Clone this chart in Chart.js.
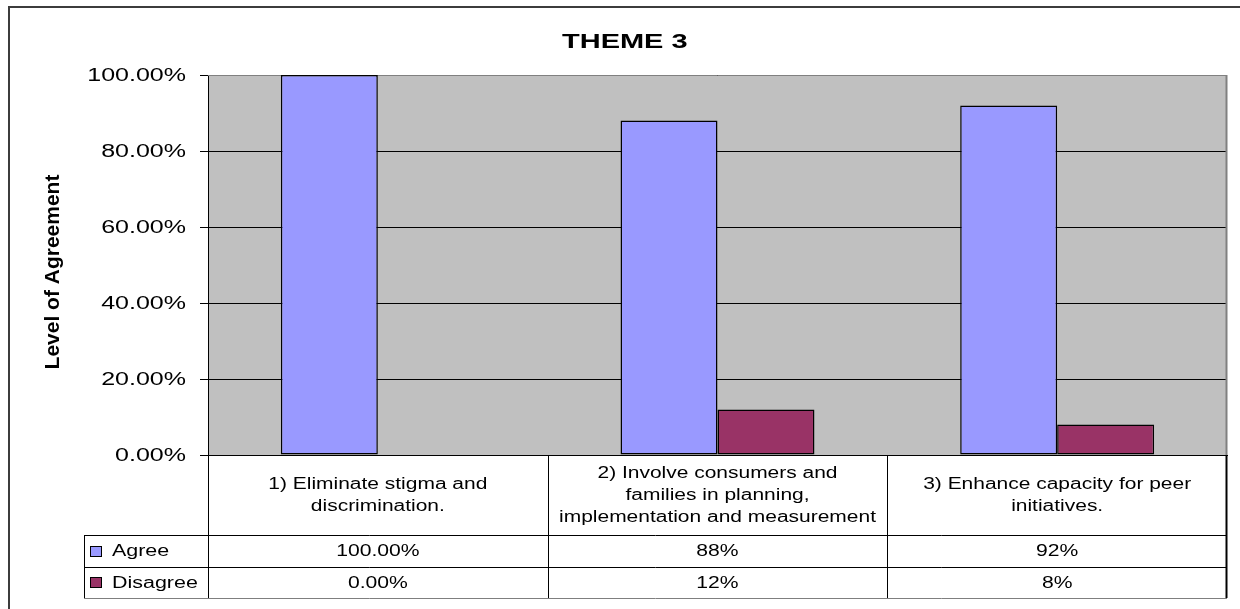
<!DOCTYPE html>
<html>
<head>
<meta charset="utf-8">
<title>THEME 3</title>
<script src="https://cdn.jsdelivr.net/npm/chart.js@4.4.1/dist/chart.umd.min.js"></script>
<style>
  html, body { margin: 0; padding: 0; background: #ffffff; }
  canvas { display: block; }
</style>
</head>
<body>
<canvas id="chart" width="1240" height="609"></canvas>
<script>
// ---- chart data ----
const chartTitle = 'THEME 3';
const yAxisTitle = 'Level of Agreement';
const categories = [
  ['1) Eliminate stigma and', 'discrimination.'],
  ['2) Involve consumers and', 'families in planning,', 'implementation and measurement'],
  ['3) Enhance capacity for peer', 'initiatives.']
];
const seriesNames = ['Agree', 'Disagree'];
const agreeValues = [1.00, 0.88, 0.92];
const disagreeValues = [0.00, 0.12, 0.08];
// decimals shown in the data table for each category column
const tableDecimals = [2, 0, 0];
const yTickValues = [0, 0.2, 0.4, 0.6, 0.8, 1.0];

const FONT = "'Liberation Sans', Arial, Helvetica, sans-serif";
const pct = (v, d) => (v * 100).toFixed(d) + '%';

// Horizontal text is drawn with widened glyphs (horizontal scale factor).
function drawWideLabels(scale, chartArea) {
  const ctx = scale.ctx;
  const sx = scale.options.ticks.stretch || 1;
  const dy = scale.options.ticks.shiftY || 0;
  for (const item of scale.getLabelItems(chartArea)) {
    const [tx, ty] = item.options.translation;
    ctx.save();
    ctx.translate(tx, ty + dy);
    ctx.scale(sx, 1);
    Chart.helpers.renderText(ctx, item.label, 0, item.textOffset, item.font,
      Object.assign({}, item.options, { translation: null }));
    ctx.restore();
  }
}

class WideLinearScale extends Chart.LinearScale {
  drawLabels(area) { drawWideLabels(this, area); }
}
WideLinearScale.id = 'wideLinear';
WideLinearScale.defaults = Chart.LinearScale.defaults;

class WideCategoryScale extends Chart.CategoryScale {
  drawLabels(area) { drawWideLabels(this, area); }
}
WideCategoryScale.id = 'wideCategory';
WideCategoryScale.defaults = Chart.CategoryScale.defaults;

Chart.register(WideLinearScale, WideCategoryScale);

function wideText(ctx, text, x, y, sx, align) {
  ctx.save();
  ctx.translate(x, y);
  ctx.scale(sx, 1);
  ctx.textAlign = align;
  ctx.fillText(text, 0, 0);
  ctx.restore();
}

// ---- frame, titles and the data table under the plot ----
const LEGEND_LEFT = 84;
const ROW_H = 31.5;

function hLine(ctx, x1, x2, y, color, w) {
  ctx.beginPath();
  ctx.strokeStyle = color;
  ctx.lineWidth = w || 1;
  const yy = Math.round(y) + 0.5;
  ctx.moveTo(x1, yy);
  ctx.lineTo(x2, yy);
  ctx.stroke();
}
function vLine(ctx, x, y1, y2, color, w) {
  ctx.beginPath();
  ctx.strokeStyle = color;
  ctx.lineWidth = w || 1;
  const xx = Math.round(x) + 0.5;
  ctx.moveTo(xx, y1);
  ctx.lineTo(xx, y2);
  ctx.stroke();
}

const framePlugin = {
  id: 'frameAndTable',
  beforeDraw(chart) {
    const {ctx, chartArea: a} = chart;
    ctx.save();
    ctx.fillStyle = '#C0C0C0';
    ctx.fillRect(a.left, a.top, a.width, a.height);
    ctx.restore();
  },
  beforeDatasetsDraw(chart) {
    const {ctx, chartArea: a} = chart;
    ctx.save();
    hLine(ctx, a.left, a.right, a.top, '#808080');
    vLine(ctx, a.right - 1, a.top, a.bottom, '#808080', 2);
    ctx.restore();
  },
  afterDraw(chart) {
    const {ctx, chartArea: a} = chart;
    const x = chart.scales.x;
    const n = chart.data.labels.length;
    const catW = x.width / n;
    const rowTop = x.bottom;
    const tableBottom = rowTop + ROW_H * 2;
    ctx.save();

    // outer chart border
    ctx.strokeStyle = '#3c3c3c';
    ctx.lineWidth = 2;
    ctx.strokeRect(9, 7, 1400, 800);

    // table grid
    hLine(ctx, LEGEND_LEFT, x.right, rowTop, '#000');
    hLine(ctx, LEGEND_LEFT, x.right, rowTop + ROW_H, '#000');
    hLine(ctx, LEGEND_LEFT, x.right, tableBottom, '#7f7f7f');
    vLine(ctx, LEGEND_LEFT, rowTop, tableBottom, '#000');
    for (let i = 0; i < n; i++) {
      vLine(ctx, x.left + i * catW, x.top, tableBottom, '#000');
    }
    vLine(ctx, x.right - 1, x.top, tableBottom, '#000', 2);

    // legend keys and table values
    ctx.font = '16px ' + FONT;
    ctx.textBaseline = 'middle';
    chart.data.datasets.forEach((ds, d) => {
      const cy = rowTop + ROW_H * d + ROW_H / 2;
      ctx.fillStyle = ds.backgroundColor;
      ctx.fillRect(90, Math.round(cy - 5), 12, 10);
      ctx.strokeStyle = '#000';
      ctx.lineWidth = 1;
      ctx.strokeRect(90.5, Math.round(cy - 5) + 0.5, 11, 10);
      ctx.fillStyle = '#000';
      wideText(ctx, ds.label, 112, cy + 1, 1.34, 'left');
      ds.data.forEach((v, i) => {
        wideText(ctx, pct(v, tableDecimals[i]), x.getPixelForValue(i), cy + 1, 1.32, 'center');
      });
    });

    // chart title
    ctx.font = 'bold 21px ' + FONT;
    ctx.textBaseline = 'alphabetic';
    wideText(ctx, chartTitle, 562, 48, 1.38, 'left');

    // value axis title
    ctx.font = 'bold 21px ' + FONT;
    ctx.translate(59, (a.top + a.bottom) / 2 + 7);
    ctx.rotate(-Math.PI / 2);
    ctx.textAlign = 'center';
    ctx.fillText(yAxisTitle, 0, 0);
    ctx.restore();
  }
};

Chart.defaults.font.family = FONT;
Chart.defaults.color = '#000';

new Chart(document.getElementById('chart'), {
  type: 'bar',
  data: {
    labels: categories,
    datasets: [
      {
        label: seriesNames[0],
        data: agreeValues,
        backgroundColor: '#9999FF',
        borderColor: '#000000',
        borderWidth: 1.5,
        borderSkipped: false
      },
      {
        label: seriesNames[1],
        data: disagreeValues,
        backgroundColor: '#993366',
        borderColor: '#000000',
        borderWidth: 1.5,
        borderSkipped: false
      }
    ]
  },
  options: {
    responsive: false,
    animation: false,
    events: [],
    categoryPercentage: 0.571,
    barPercentage: 1,
    layout: { padding: { top: 75, left: 10, right: 13, bottom: 74 } },
    plugins: {
      legend: { display: false },
      title: { display: false },
      tooltip: { enabled: false }
    },
    scales: {
      x: {
        type: 'wideCategory',
        offset: true,
        grid: { display: false, drawTicks: false },
        border: { display: true, color: '#000', width: 1 },
        ticks: {
          font: { size: 16, lineHeight: 1.375 },
          stretch: 1.31,
          color: '#000',
          crossAlign: 'center',
          padding: 19,
          maxRotation: 0,
          autoSkip: false
        },
        afterFit(scale) { scale.height = 80; }
      },
      y: {
        type: 'wideLinear',
        min: yTickValues[0],
        max: yTickValues[yTickValues.length - 1],
        afterBuildTicks(scale) { scale.ticks = yTickValues.map(v => ({ value: v })); },
        grid: { color: '#000', lineWidth: 1, drawTicks: true, tickLength: 8, tickColor: '#000' },
        border: { display: true, color: '#000', width: 1 },
        ticks: {
          font: { size: 18 },
          stretch: 1.39,
          shiftY: 1.5,
          color: '#000',
          padding: 14,
          callback: (v) => pct(v, 2)
        },
        afterFit(scale) { scale.width = 198; }
      }
    }
  },
  plugins: [framePlugin]
});
</script>
</body>
</html>
